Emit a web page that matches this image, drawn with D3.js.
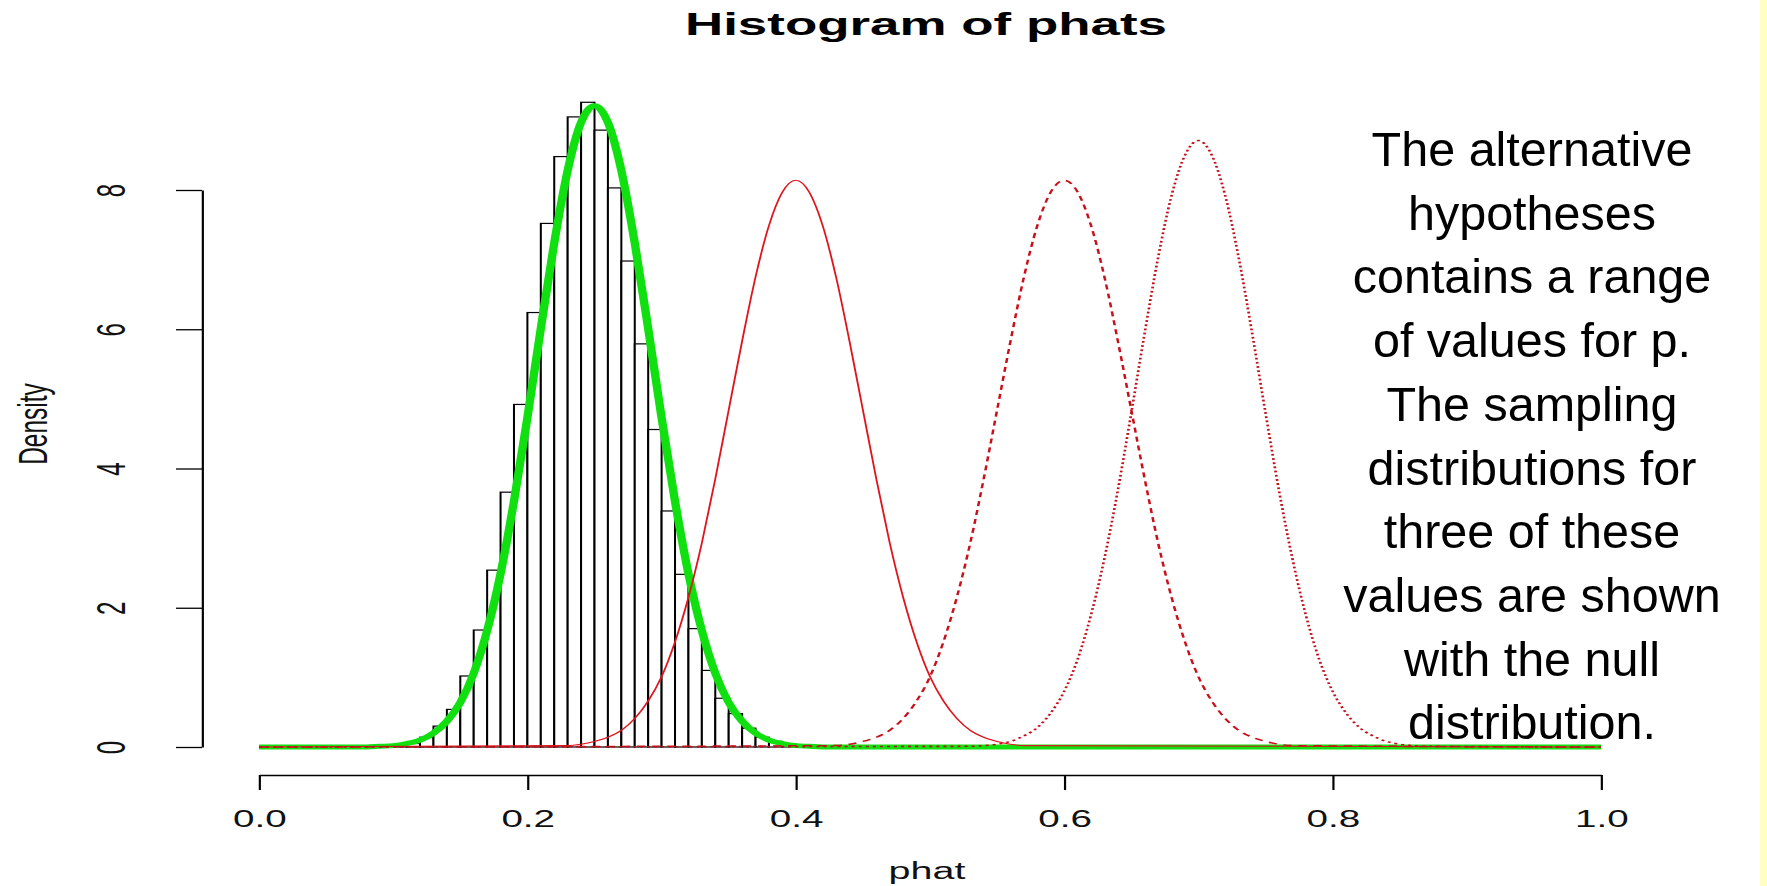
<!DOCTYPE html>
<html>
<head>
<meta charset="utf-8">
<script src="https://cdn.jsdelivr.net/npm/d3@7"></script>
<style>
  html, body { margin: 0; padding: 0; background: #fff; }
  svg { display: block; }
</style>
</head>
<body>
<div id="chart"></div>
<script>
// histogram bins (left edge, width 0.01) and densities
var binStarts = [0.10, 0.11, 0.12, 0.13, 0.14, 0.15, 0.16, 0.17, 0.18, 0.19,
                 0.20, 0.21, 0.22, 0.23, 0.24, 0.25, 0.26, 0.27, 0.28, 0.29,
                 0.30, 0.31, 0.32, 0.33, 0.34, 0.35, 0.36, 0.37, 0.38, 0.39, 0.40];
var binDensity = [0.01, 0.05, 0.14, 0.30, 0.54, 1.02, 1.68, 2.54, 3.66, 4.92,
                  6.24, 7.52, 8.48, 9.05, 9.26, 8.86, 8.03, 6.98, 5.79, 4.56,
                  3.39, 2.48, 1.70, 1.10, 0.70, 0.48, 0.27, 0.14, 0.08, 0.04, 0.01];

// curve heights, at offsets from each curve's centre
var curveOffsets = [-0.17, -0.16, -0.15, -0.14, -0.13, -0.12, -0.11, -0.10, -0.09, -0.08,
                    -0.07, -0.06, -0.05, -0.04, -0.03, -0.02, -0.01, 0.00, 0.01, 0.02,
                    0.03, 0.04, 0.05, 0.06, 0.07, 0.08, 0.09, 0.10, 0.11, 0.12,
                    0.13, 0.14, 0.15, 0.16, 0.17];
var nullCurve = [0.00, 0.01, 0.02, 0.05, 0.10, 0.20, 0.37, 0.64, 1.06, 1.67,
                 2.49, 3.53, 4.73, 6.01, 7.24, 8.28, 8.97, 9.21, 8.97, 8.28,
                 7.24, 6.01, 4.73, 3.53, 2.49, 1.67, 1.06, 0.64, 0.37, 0.20,
                 0.10, 0.05, 0.02, 0.01, 0.00];
var alt40Curve = [0.02, 0.04, 0.08, 0.14, 0.24, 0.41, 0.66, 1.01, 1.51, 2.15,
                  2.93, 3.85, 4.84, 5.83, 6.75, 7.49, 7.97, 8.14, 7.97, 7.49,
                  6.75, 5.83, 4.84, 3.85, 2.93, 2.15, 1.51, 1.01, 0.66, 0.41,
                  0.24, 0.14, 0.08, 0.04, 0.02];
var alt60Curve = [0.02, 0.04, 0.08, 0.14, 0.24, 0.41, 0.66, 1.01, 1.51, 2.15,
                  2.93, 3.85, 4.84, 5.83, 6.75, 7.49, 7.97, 8.14, 7.97, 7.49,
                  6.75, 5.83, 4.84, 3.85, 2.93, 2.15, 1.51, 1.01, 0.66, 0.41,
                  0.24, 0.14, 0.08, 0.04, 0.02];
var alt70Curve = [0.01, 0.02, 0.04, 0.08, 0.16, 0.28, 0.49, 0.80, 1.26, 1.90,
                  2.71, 3.69, 4.80, 5.95, 7.03, 7.92, 8.50, 8.71, 8.50, 7.92,
                  7.03, 5.95, 4.80, 3.69, 2.71, 1.90, 1.26, 0.80, 0.49, 0.28,
                  0.16, 0.08, 0.04, 0.02, 0.01];
var curveCenters = [0.25, 0.40, 0.60, 0.70];

var xTicks = [0, 0.2, 0.4, 0.6, 0.8, 1.0];
var yTicks = [0, 2, 4, 6, 8];

var noteLines = ["The alternative", "hypotheses", "contains a range", "of values for p.",
                 "The sampling", "distributions for", "three of these",
                 "values are shown", "with the null", "distribution."];

var W = 1767, H = 886;
var SX = 1.68; // the R picture is stretched sideways

var svg = d3.select("#chart").append("svg")
    .attr("width", W)
    .attr("height", H);

svg.append("rect").attr("width", W).attr("height", H).attr("fill", "#fff");
svg.append("rect").attr("x", 1760).attr("y", 0).attr("width", 7).attr("height", H)
    .attr("fill", "#ffffc4");

var plot = svg.append("g").attr("transform", "scale(" + SX + ",1)");

var x = d3.scaleLinear().domain([0, 1]).range([259 / SX, 1601 / SX]);
var y = d3.scaleLinear().domain([0, 8]).range([747, 190]);

var font = "'Liberation Sans', Arial, sans-serif";

// title
plot.append("text")
    .attr("x", 926 / SX)
    .attr("y", 35)
    .attr("text-anchor", "middle")
    .style("font-family", font)
    .style("font-weight", "bold")
    .style("font-size", "31.5px")
    .text("Histogram of phats");

// histogram bars
plot.append("g").selectAll("rect")
    .data(binStarts)
    .enter()
    .append("rect")
    .attr("x", function (d) { return x(d); })
    .attr("y", function (d, i) { return y(binDensity[i]); })
    .attr("width", function (d) { return x(d + 0.01) - x(d); })
    .attr("height", function (d, i) { return y(0) - y(binDensity[i]); })
    .attr("fill", "#fff")
    .attr("stroke", "#000")
    .attr("stroke-width", 1.2);

// density curves
var line = d3.line()
    .x(function (d) { return x(d[0]); })
    .y(function (d) { return y(d[1]); })
    .curve(d3.curveMonotoneX);

function curvePoints(center, values) {
    var pts = [[0, 0]];
    curveOffsets.forEach(function (o, i) {
        pts.push([+(center + o).toFixed(3), values[i]]);
    });
    pts.push([1, 0]);
    return pts;
}

var curves = [
    { values: nullCurve, color: "#10e010", width: 5, dash: null },
    { values: alt40Curve, color: "#e0141c", width: 1.1, dash: null },
    { values: alt60Curve, color: "#c8101a", width: 1.5, dash: "5,4" },
    { values: alt70Curve, color: "#c0101a", width: 1.6, dash: "1.8,2.4" }
];

curves.forEach(function (c, i) {
    plot.append("path")
        .attr("d", line(curvePoints(curveCenters[i], c.values)))
        .attr("fill", "none")
        .attr("stroke", c.color)
        .attr("stroke-width", c.width)
        .attr("stroke-dasharray", c.dash)
        .attr("stroke-linejoin", "round");
});

// x axis
var xAxis = plot.append("g")
    .attr("transform", "translate(0,775)")
    .call(d3.axisBottom(x).tickValues(xTicks).tickSize(15).tickSizeOuter(0)
        .tickFormat(d3.format(".1f")));
xAxis.selectAll("path, line").attr("stroke", "#000").attr("stroke-width", 1.3);
xAxis.selectAll("text")
    .attr("y", 52).attr("dy", 0)
    .attr("fill", "#111")
    .style("font-family", font)
    .style("font-size", "23px");

// y axis
var yAxis = plot.append("g")
    .attr("transform", "translate(" + (202 / SX) + ",0)")
    .call(d3.axisLeft(y).tickValues(yTicks).tickSize(26 / SX).tickSizeOuter(0)
        .tickFormat(d3.format("d")));
yAxis.selectAll("path, line").attr("stroke", "#000").attr("stroke-width", 1.3);
yAxis.selectAll("text")
    .attr("transform", "rotate(-90)")
    .attr("x", 0).attr("y", -46).attr("dy", 0)
    .attr("text-anchor", "middle")
    .attr("fill", "#111")
    .style("font-family", font)
    .style("font-size", "24px");

// axis titles
plot.append("text")
    .attr("x", 927 / SX)
    .attr("y", 879)
    .attr("text-anchor", "middle")
    .attr("fill", "#111")
    .style("font-family", font)
    .style("font-size", "23.5px")
    .text("phat");

plot.append("text")
    .attr("transform", "translate(" + (47 / SX) + ",424) rotate(-90)")
    .attr("text-anchor", "middle")
    .attr("fill", "#111")
    .style("font-family", font)
    .style("font-size", "24.5px")
    .text("Density");

// note on the right
svg.append("g").selectAll("text")
    .data(noteLines)
    .enter()
    .append("text")
    .attr("x", 1532)
    .attr("y", function (d, i) { return 166 + i * 63.7; })
    .attr("text-anchor", "middle")
    .attr("fill", "#000")
    .style("font-family", font)
    .style("font-size", "48.5px")
    .text(function (d) { return d; });
</script>
</body>
</html>
